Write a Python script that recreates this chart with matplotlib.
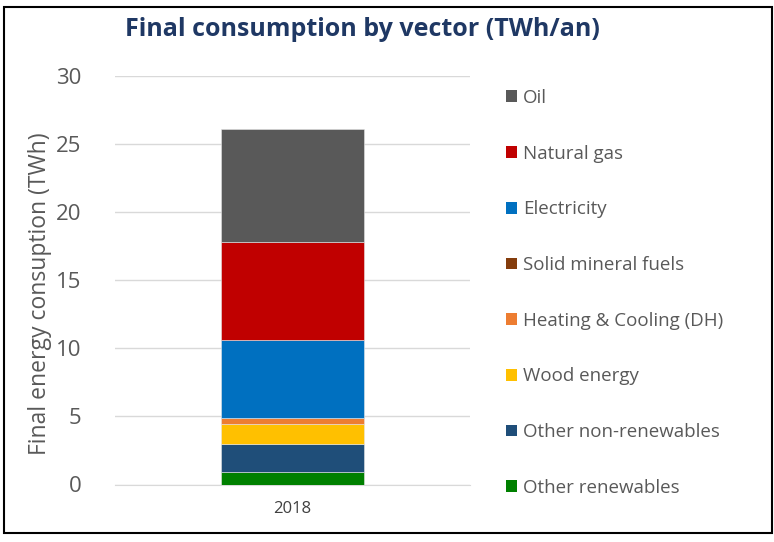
import numpy as np
import matplotlib.pyplot as plt
from matplotlib.patches import Rectangle, Patch

# Données (TWh)
annees = ['2018']
vecteurs = ['Other renewables', 'Other non-renewables', 'Wood energy',
            'Heating & Cooling (DH)', 'Solid mineral fuels', 'Electricity',
            'Natural gas', 'Oil']
valeurs = [0.9, 2.1, 1.45, 0.4, 0.02, 5.76, 7.15, 8.32]
couleurs = ['#008000', '#1F4E79', '#FFC000', '#ED7D31', '#843C0C',
            '#0070C0', '#C00000', '#595959']

plt.rcParams['font.family'] = ['Open Sans', 'DejaVu Sans']

fig = plt.figure(figsize=(7.74, 5.42), dpi=100)
ax = fig.add_axes([115 / 774, 1 - 484.5 / 542, 355 / 774, (484.5 - 76) / 542])

x = np.arange(len(annees))
base = np.zeros(len(annees))
for nom, v, c in zip(vecteurs, valeurs, couleurs):
    ax.bar(x, [v], bottom=base, width=0.405, color=c, label=nom,
           edgecolor='#E6E6E6', linewidth=0.4, zorder=3)
    base += v

ax.set_xlim(-0.5, 0.5)
ax.set_ylim(0, 30)
ax.set_yticks(np.arange(0, 31, 5))
ax.set_xticks(x)
ax.set_xticklabels(annees, fontsize=12, color='#404040')
ax.tick_params(axis='y', labelsize=16, labelcolor='#595959', length=0, pad=24)
ax.tick_params(axis='x', length=0, pad=12)
ax.grid(axis='y', color='#D9D9D9', linewidth=1, zorder=0)
for s in ['top', 'right', 'left']:
    ax.spines[s].set_visible(False)
ax.spines['bottom'].set_color('#D9D9D9')

fig.text(40 / 774, 1 - 294 / 542, 'Final energy consuption (TWh)',
         fontsize=16.5, color='#595959', rotation=90, ha='center', va='center')

# Légende à droite, de haut en bas
poignees = [Patch(facecolor=c, edgecolor='none') for c in couleurs[::-1]]
fig.legend(poignees, vecteurs[::-1], loc='upper left',
           bbox_to_anchor=(506 / 774, 1 - 89 / 542), frameon=False,
           borderpad=0, borderaxespad=0,
           fontsize=13.5, labelcolor='#595959', handlelength=0.59,
           handleheight=0.59, handletextpad=0.3, labelspacing=2.01)

fig.text(362 / 774, 1 - 30 / 542, 'Final consumption by vector (TWh/an)',
         fontsize=18, fontweight='bold', color='#1F3864',
         ha='center', va='center')

# Cadre noir autour de la figure
fig.patches.append(Rectangle((4 / 774, 1 - 533 / 542), 768 / 774, 526 / 542,
                             transform=fig.transFigure, fill=False,
                             edgecolor='black', linewidth=1.5))

fig.savefig('out.png', dpi=100)
